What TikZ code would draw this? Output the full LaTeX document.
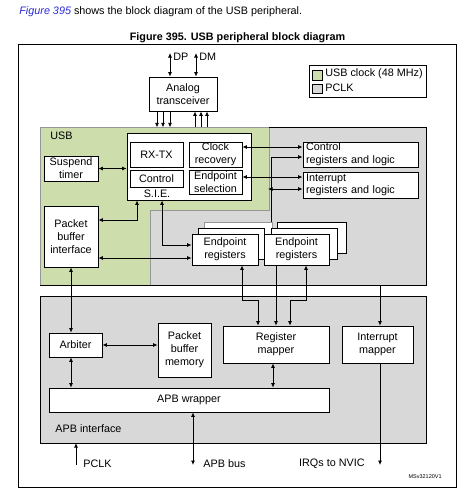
\documentclass[tikz,border=0pt]{standalone}
\usepackage{fontspec}
\setmainfont{Liberation Sans}
\usetikzlibrary{arrows.meta}
\definecolor{usbgreen}{RGB}{205,221,172}
\definecolor{pclkgray}{RGB}{216,216,216}
\definecolor{linkblue}{RGB}{40,40,215}
\definecolor{edgegray}{RGB}{150,150,150}
\tikzset{
  box/.style={draw, fill=white, inner sep=0pt, align=center, line width=0.8pt},
  lbl/.style={inner sep=0pt},
  conn/.style={line width=0.8pt},
  >={Latex[length=4.5pt,width=4pt]}
}
\begin{document}
\begin{tikzpicture}[x=1pt,y=-1pt,font=\fontsize{10.8}{12.8}\selectfont, line width=0.8pt]
\useasboundingbox (0,0) rectangle (462,504);
% header texts
\node[lbl, anchor=base west] (intro) at (19,14) {{\color{linkblue}\itshape Figure 395} shows the block diagram of the USB peripheral.};
\node[lbl, anchor=base] (title) at (237.5,40) {\bfseries Figure 395. USB peripheral block diagram};
% outer frame
\draw (18,44) rectangle (456,487);
% regions
\fill[usbgreen] (40,127) -- (269,127) -- (269,210) -- (150,210) -- (150,285) -- (40,285) -- cycle;
\fill[pclkgray] (269,127) -- (426,127) -- (426,285) -- (150,285) -- (150,210) -- (269,210) -- cycle;
\draw[edgegray] (40,127) -- (269,127) -- (269,210) -- (150,210) -- (150,285);
\draw[edgegray] (40,127) -- (40,285);
\draw (269,127) -- (426,127) -- (426,285) -- (40,285);
\filldraw[fill=pclkgray, draw=black] (40,296) rectangle (426,443);
\node[lbl, anchor=west] (usblbl) at (50,136) {USB};
\node[lbl, anchor=west] (apblbl) at (55,429) {APB interface};
% legend
\draw (309,65) rectangle (426,97);
\filldraw[fill=usbgreen, draw=black] (312,70) rectangle (322,80);
\filldraw[fill=pclkgray, draw=black] (312,84) rectangle (322,93);
\node[lbl, anchor=west] (lg1) at (325,74) {USB clock (48 MHz)};
\node[lbl, anchor=west] (lg2) at (325,88) {PCLK};
% analog transceiver
\node[box, minimum width=68pt, minimum height=34pt] (at) at (183,94) {Analog\\transceiver};
% S.I.E.
\node[box, minimum width=124pt, minimum height=67pt] (sie) at (189,166.5) {};
\node[box, minimum width=53pt, minimum height=25pt] (rxtx) at (156.5,154.5) {RX-TX};
\node[box, minimum width=53pt, minimum height=17pt] (ctl) at (156.5,178.5) {Control};
\node[box, minimum width=53pt, minimum height=25pt] (clk) at (215.5,154.5) {Clock\\recovery};
\node[box, minimum width=53pt, minimum height=24pt] (epsel) at (215.5,182) {Endpoint\\selection};
\node[lbl] (sielbl) at (157,194) {S.I.E.};
% USB side
\node[box, minimum width=54pt, minimum height=25pt] (sus) at (71,168.5) {Suspend\\timer};
\node[box, minimum width=54pt, minimum height=61pt] (pbi) at (71,236.5) {Packet\\buffer\\interface};
% registers
\node[box, text width=109pt, inner xsep=3pt, align=left, minimum height=25pt] (creg) at (360.5,154.5) {Control\\registers and logic};
\node[box, text width=109pt, inner xsep=3pt, align=left, minimum height=26pt] (ireg) at (360.5,185) {Interrupt\\registers and logic};
% endpoint register stacks
\node[box, draw=edgegray, minimum width=68pt, minimum height=31pt] (epl3) at (238,237.5) {};
\node[box, minimum width=66pt, minimum height=31pt] (epl2) at (231,243.5) {};
\node[box, minimum width=66pt, minimum height=31pt] (ep1) at (225,249.5) {Endpoint\\registers};
\node[box, minimum width=69pt, minimum height=31pt] (epr3) at (311.5,237.5) {};
\node[box, minimum width=66pt, minimum height=31pt] (epr2) at (304,243.5) {};
\node[box, minimum width=65pt, minimum height=31pt] (ep2) at (296.5,249.5) {Endpoint\\registers};
% APB interface blocks
\node[box, minimum width=53pt, minimum height=24pt] (arb) at (75.5,345) {Arbiter};
\node[box, minimum width=53pt, minimum height=54pt] (pbm) at (184.5,350) {Packet\\buffer\\memory};
\node[box, minimum width=106pt, minimum height=37pt] (rmap) at (276,344.5) {Register\\mapper};
\node[box, minimum width=71pt, minimum height=37pt] (imap) at (377.5,344.5) {Interrupt\\mapper};
\node[box, minimum width=280pt, minimum height=24pt] (apbw) at (189,400) {APB wrapper};
% external labels
\node[lbl, anchor=west] (dpl) at (173,57) {DP};
\node[lbl, anchor=west] (dml) at (199,57) {DM};
\node[lbl, anchor=west] (pclkl) at (83,464) {PCLK};
\node[lbl, anchor=west] (apbl) at (203,464) {APB bus};
\node[lbl, anchor=east] (irql) at (365,464) {IRQs to NVIC};
\node[lbl, anchor=east, font=\fontsize{5.5}{6}\selectfont] (ref) at (442,477) {MSv32120V1};
% coordinates for free ends
\coordinate (dp) at (170,53);
\coordinate (dm) at (196,53);
\coordinate (bus) at (271,157);
\coordinate (busj) at (268,189);
\coordinate (irqsrc) at (380,285);
\coordinate (irqend) at (380,465);
\coordinate (pclk) at (76,465);
\coordinate (apbbot) at (76,443);
\coordinate (apbbus) at (193,465);
% connectors
\draw[<->] (dp) -- (dp |- at.north);
\draw[<->] (dm) -- (dm |- at.north);
\foreach \dx in {-26,-20,-13} \draw[->] ([xshift=\dx pt]at.south) -- ++(0,16);
\foreach \dx in {12,18,24} \draw[<-] ([xshift=\dx pt]at.south) -- ++(0,16);
\draw[<->] (sus.east) -- (sus.east -| sie.west);
\draw[<->] ([yshift=16.5pt]pbi.east) -| ([xshift=-52pt]sie.south);
\draw[<->] ([xshift=-27pt]sie.south) |- ([yshift=4.5pt]ep1.west);
\draw[<->] ([yshift=-21.5pt]pbi.east) -- ([yshift=-8.5pt]ep1.west);
\draw[<->] ([yshift=7.5pt]clk.east) -- ([yshift=7.5pt]creg.west);
\draw[<->] ([yshift=5pt]epsel.east) -- ([yshift=8pt]ireg.west);
\draw[->] (bus |- epl3.north) -- (bus) -- (bus -| creg.west);
\draw[<->] (busj) -- (busj -| ireg.west);
\draw[<->] ([xshift=17pt]ep1.south) -- ++(0,35) -| ([xshift=-18pt]rmap.north);
\coordinate (e2a) at ([xshift=-20.5pt]ep2.south);
\draw[->] (e2a) -- (e2a |- rmap.north);
\draw[<->] ([xshift=9.5pt]ep2.south) -- ++(0,35) -| ([xshift=14pt]rmap.north);
\draw[->] (irqsrc) -- (irqsrc |- imap.north);
\draw[->] (irqsrc |- imap.south) -- (irqend);
\draw[<->] (pbi.south) -- (pbi.south |- arb.north);
\draw[<->] (arb.east) -- (arb.east -| pbm.west);
\draw[<->] (pbi.south |- arb.south) -- (pbi.south |- apbw.north);
\coordinate (rw) at ([xshift=-3pt]rmap.south);
\draw[<->] (rw) -- (rw |- apbw.north);
\coordinate (bw) at ([xshift=4pt]apbw.south);
\draw[<->] (bw) -- (apbbus);
\draw[->] (pclk) -- (apbbot);
\end{tikzpicture}
\end{document}
